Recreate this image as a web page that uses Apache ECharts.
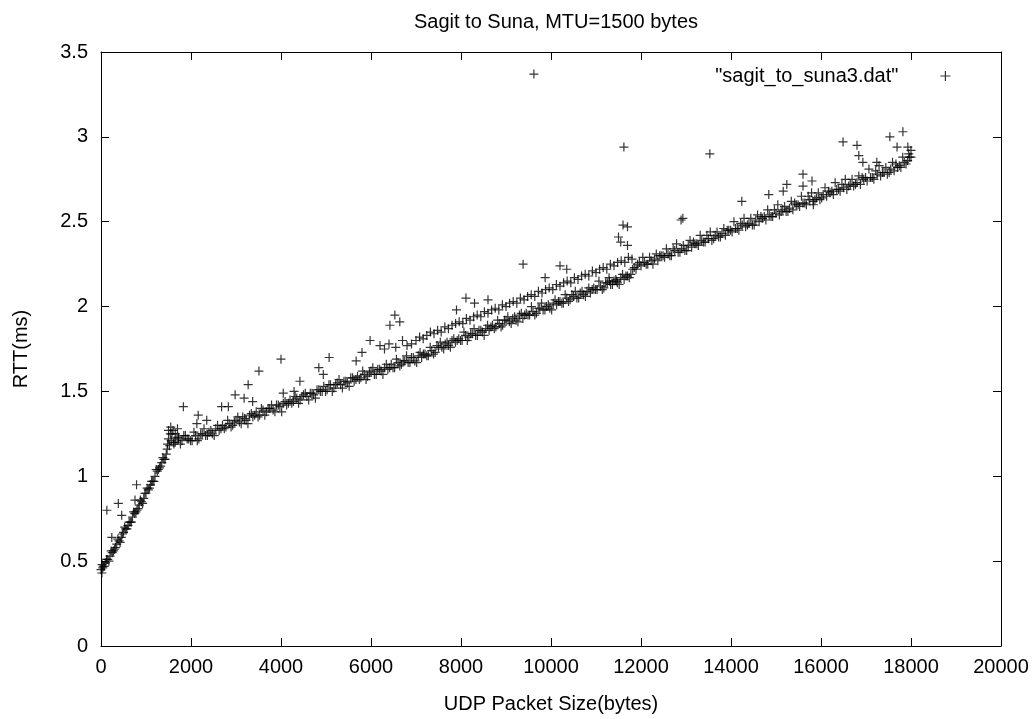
<!DOCTYPE html>
<html>
<head>
<meta charset="utf-8">
<script src="https://cdn.jsdelivr.net/npm/echarts@6/dist/echarts.min.js"></script>
<style>
  html, body { margin: 0; padding: 0; background: #fff; }
  #chart { width: 1036px; height: 719px; }
</style>
</head>
<body>
<div id="chart"></div>
<script>
const TITLE = 'Sagit to Suna, MTU=1500 bytes';
const SERIES_NAME = '"sagit_to_suna3.dat"';
const X_NAME = 'UDP Packet Size(bytes)';
const Y_NAME = 'RTT(ms)';

// packet sizes are sent on fixed grids; RTT values
const rampStart = 0, rampStep = 50;
const rampRtt = [
  0.45, 0.47, 0.49, 0.51, 0.53, 0.55, 0.57, 0.60, 0.62, 0.64,
  0.67, 0.69, 0.71, 0.73, 0.76, 0.78, 0.80, 0.83, 0.85, 0.87,
  0.90, 0.92, 0.95, 0.97, 1.00, 1.03, 1.05, 1.08, 1.10, 1.13
];
const rampBStart = 25, rampBStep = 50;
const rampBRtt = [
  0.48, 0.47, 0.51, 0.50, 0.56, 0.56, 0.58, 0.63, 0.61, 0.66,
  0.70, 0.69, 0.73, 0.73, 0.79, 0.79, 0.81, 0.86, 0.84, 0.90,
  0.93, 0.93, 0.97, 0.97, 1.04, 1.04, 1.06, 1.11, 1.10
];

const mainStart = 1500, mainStep = 75;
const mainRtt = [
  1.22, 1.25, 1.20, 1.23, 1.21, 1.24, 1.22, 1.21, 1.24, 1.22,
  1.25, 1.24, 1.26, 1.25, 1.28, 1.27, 1.30, 1.29, 1.31, 1.30,
  1.33, 1.32, 1.35, 1.33, 1.36, 1.35, 1.38, 1.36, 1.39, 1.38,
  1.40, 1.39, 1.42, 1.41, 1.43, 1.42, 1.45, 1.44, 1.46, 1.45,
  1.48, 1.47, 1.49, 1.48, 1.51, 1.50, 1.53, 1.51, 1.54, 1.52,
  1.55, 1.54, 1.56, 1.55, 1.58, 1.56, 1.59, 1.58, 1.60, 1.59,
  1.62, 1.60, 1.63, 1.62, 1.64, 1.63, 1.66, 1.64, 1.67, 1.66,
  1.68, 1.67, 1.70, 1.68, 1.71, 1.70, 1.72, 1.71, 1.74, 1.73,
  1.76, 1.76, 1.78, 1.77, 1.80, 1.79, 1.81, 1.80, 1.83, 1.82,
  1.84, 1.83, 1.86, 1.85, 1.87, 1.86, 1.89, 1.88, 1.90, 1.89,
  1.92, 1.91, 1.93, 1.92, 1.95, 1.93, 1.96, 1.95, 1.97, 1.96,
  1.99, 1.98, 2.00, 1.99, 2.02, 2.01, 2.03, 2.02, 2.05, 2.04,
  2.06, 2.05, 2.08, 2.07, 2.09, 2.08, 2.11, 2.10, 2.12, 2.11,
  2.14, 2.13, 2.15, 2.14, 2.17, 2.16, 2.18, 2.19, 2.23, 2.25,
  2.24, 2.26, 2.25, 2.27, 2.28, 2.27, 2.30, 2.29, 2.31, 2.30,
  2.33, 2.32, 2.34, 2.33, 2.36, 2.35, 2.37, 2.36, 2.39, 2.38,
  2.40, 2.39, 2.42, 2.41, 2.43, 2.42, 2.45, 2.44, 2.46, 2.45,
  2.48, 2.47, 2.49, 2.48, 2.51, 2.50, 2.52, 2.51, 2.54, 2.53,
  2.55, 2.54, 2.57, 2.56, 2.58, 2.57, 2.60, 2.59, 2.61, 2.60,
  2.63, 2.62, 2.64, 2.63, 2.66, 2.65, 2.67, 2.66, 2.69, 2.68,
  2.70, 2.69, 2.72, 2.71, 2.73, 2.72, 2.75, 2.74, 2.76, 2.75,
  2.78, 2.77, 2.79, 2.78, 2.81, 2.80, 2.82, 2.82, 2.85, 2.86,
  2.88
];

const mainBStart = 1540, mainBStep = 75;
const mainBRtt = [
  1.25, 1.20, 1.23, 1.19, 1.24, 1.22, 1.21, 1.26, 1.21, 1.25,
  1.28, 1.24, 1.27, 1.24, 1.30, 1.28, 1.28, 1.33, 1.29, 1.32,
  1.35, 1.31, 1.34, 1.31, 1.37, 1.36, 1.35, 1.40, 1.36, 1.40,
  1.42, 1.38, 1.42, 1.38, 1.44, 1.43, 1.43, 1.47, 1.43, 1.47,
  1.49, 1.45, 1.49, 1.46, 1.51, 1.50, 1.50, 1.54, 1.50, 1.54,
  1.57, 1.52, 1.56, 1.53, 1.58, 1.57, 1.57, 1.62, 1.57, 1.61,
  1.64, 1.60, 1.63, 1.60, 1.66, 1.64, 1.64, 1.69, 1.65, 1.68,
  1.71, 1.67, 1.70, 1.67, 1.73, 1.72, 1.71, 1.76, 1.72, 1.77,
  1.79, 1.75, 1.79, 1.76, 1.81, 1.80, 1.80, 1.85, 1.80, 1.84,
  1.87, 1.83, 1.86, 1.83, 1.89, 1.88, 1.87, 1.92, 1.88, 1.92,
  1.94, 1.90, 1.94, 1.91, 1.96, 1.95, 1.95, 2.00, 1.95, 1.99,
  2.02, 1.98, 2.01, 1.98, 2.04, 2.03, 2.02, 2.07, 2.03, 2.07,
  2.09, 2.05, 2.09, 2.06, 2.11, 2.10, 2.10, 2.15, 2.10, 2.14,
  2.17, 2.13, 2.16, 2.13, 2.19, 2.18, 2.17, 2.22, 2.22, 2.26,
  2.29, 2.25, 2.29, 2.25, 2.31, 2.30, 2.30, 2.34, 2.30, 2.34,
  2.37, 2.32, 2.36, 2.33, 2.39, 2.38, 2.37, 2.42, 2.38, 2.42,
  2.44, 2.40, 2.44, 2.41, 2.46, 2.45, 2.45, 2.50, 2.46, 2.49,
  2.52, 2.48, 2.52, 2.48, 2.54, 2.53, 2.53, 2.57, 2.53, 2.57,
  2.60, 2.56, 2.59, 2.56, 2.62, 2.61, 2.60, 2.65, 2.61, 2.65,
  2.67, 2.63, 2.67, 2.64, 2.70, 2.68, 2.68, 2.73, 2.69, 2.72,
  2.75, 2.71, 2.75, 2.72, 2.77, 2.76, 2.76, 2.81, 2.76, 2.80,
  2.83, 2.79, 2.82, 2.79, 2.85, 2.84, 2.83, 2.88, 2.84, 2.88
];

const upperStart = 7000, upperStep = 80;
const upperRtt = [
  1.80, 1.82, 1.81, 1.83, 1.85, 1.84, 1.86, 1.85, 1.88, 1.87,
  1.89, 1.90, 1.91, 1.90, 1.93, 1.92, 1.94, 1.95, 1.94, 1.97,
  1.96, 1.98, 1.99, 1.98, 2.01, 2.00, 2.02, 2.03, 2.02, 2.05,
  2.04, 2.06, 2.07, 2.06, 2.09, 2.08, 2.10, 2.11, 2.10, 2.13,
  2.12, 2.14, 2.15, 2.14, 2.17, 2.16, 2.18, 2.19, 2.18, 2.21,
  2.20, 2.22, 2.23, 2.22, 2.25, 2.24, 2.26, 2.27, 2.26, 2.29,
  2.28
];

const strayPoints = [
  [130, 0.80], [385, 0.84], [460, 0.77], [790, 0.95], [755, 0.86], [240, 0.64],
  [20, 0.43], [40, 0.46],
  [1470, 1.16], [1480, 1.19], [1500, 1.27], [1520, 1.18], [1550, 1.29], [1560, 1.21],
  [1600, 1.27], [1620, 1.19], [1650, 1.25], [1700, 1.28], [1720, 1.22],
  [1830, 1.41], [2160, 1.36], [2130, 1.31],
  [2350, 1.33], [2680, 1.41], [2830, 1.41], [2980, 1.48], [3180, 1.46], [3370, 1.44],
  [3270, 1.54], [4050, 1.49], [4290, 1.50], [4420, 1.56], [4940, 1.60], [3510, 1.62],
  [4000, 1.69], [4840, 1.64], [5070, 1.70], [5670, 1.68], [5980, 1.80], [6530, 1.95],
  [6640, 1.91], [6420, 1.89], [6200, 1.77], [6400, 1.78], [6700, 1.80], [6900, 1.78],
  [6550, 1.76], [6800, 1.77], [6300, 1.75],
  [5800, 1.73], [7900, 1.98], [8110, 2.05], [8300, 2.02], [8600, 2.04], [9380, 2.25],
  [9620, 3.37], [9870, 2.17], [10200, 2.24], [10350, 2.22], [11300, 2.15], [11450, 2.15],
  [11500, 2.41], [11550, 2.38], [11600, 2.48], [11700, 2.47], [11700, 2.36], [11620, 2.94],
  [12890, 2.51], [12930, 2.52], [13530, 2.90], [14240, 2.62], [14840, 2.66], [15160, 2.68],
  [15240, 2.72], [15600, 2.78], [15600, 2.71], [15800, 2.74], [15830, 2.60], [16490, 2.97],
  [16800, 2.95], [16840, 2.89], [16930, 2.85], [17240, 2.85], [17530, 3.00], [17690, 2.94],
  [17820, 3.03], [17930, 2.94], [17950, 2.90], [18000, 2.92]
];

const gridPoints = (start, step, values) => values.map((v, i) => [start + i * step, v]);
const allPoints = []
  .concat(gridPoints(rampStart, rampStep, rampRtt))
  .concat(gridPoints(rampBStart, rampBStep, rampBRtt))
  .concat(gridPoints(mainStart, mainStep, mainRtt))
  .concat(gridPoints(mainBStart, mainBStep, mainBRtt))
  .concat(gridPoints(upperStart, upperStep, upperRtt))
  .concat(strayPoints);

const FONT = 'Liberation Sans, Arial, sans-serif';
const FS = 20;
const PLUS = 'path://M0,5L10,5M5,0L5,10';

const axisCommon = {
  axisLine: { show: true, onZero: false, lineStyle: { color: '#000', width: 1 } },
  axisTick: { show: true, inside: true, length: 8, lineStyle: { color: '#000' } },
  splitLine: { show: false },
};

const option = {
  animation: false,
  backgroundColor: '#fff',
  textStyle: { fontFamily: FONT, color: '#000' },
  title: {
    text: TITLE,
    left: 551, top: 7, textAlign: 'center',
    textStyle: { fontFamily: FONT, fontSize: FS, fontWeight: 'normal', color: '#000' },
  },
  legend: {
    data: [SERIES_NAME],
    right: 80, top: 61,
    align: 'right',
    itemWidth: 10, itemHeight: 10,
    icon: PLUS,
    itemStyle: { color: 'transparent', borderColor: '#000', borderWidth: 1.2 },
    textStyle: { fontFamily: FONT, fontSize: FS, color: '#000', padding: [0, 37, 0, 0] },
    selectedMode: false,
  },
  grid: { left: 101, right: 35, top: 52, bottom: 63 },
  xAxis: [
    Object.assign({}, axisCommon, {
      type: 'value', min: 0, max: 20000, interval: 2000, position: 'bottom',
      name: X_NAME, nameLocation: 'middle', nameGap: 48,
      nameTextStyle: { fontFamily: FONT, fontSize: FS, color: '#000' },
      axisLabel: { show: true, margin: 11, fontFamily: FONT, fontSize: FS, color: '#000',
        formatter: (v) => String(v) },
    }),
    Object.assign({}, axisCommon, {
      type: 'value', min: 0, max: 20000, interval: 2000, position: 'top',
      axisLabel: { show: false },
    }),
  ],
  yAxis: [
    Object.assign({}, axisCommon, {
      type: 'value', min: 0, max: 3.5, interval: 0.5, position: 'left',
      name: Y_NAME, nameLocation: 'middle', nameGap: 70, nameRotate: 90,
      nameTextStyle: { fontFamily: FONT, fontSize: FS, color: '#000' },
      axisLabel: { show: true, margin: 13, fontFamily: FONT, fontSize: FS, color: '#000',
        formatter: (v) => String(v) },
    }),
    Object.assign({}, axisCommon, {
      type: 'value', min: 0, max: 3.5, interval: 0.5, position: 'right',
      axisLabel: { show: false },
    }),
  ],
  series: [
    {
      name: SERIES_NAME,
      type: 'scatter',
      xAxisIndex: 0,
      yAxisIndex: 0,
      data: allPoints,
      symbol: PLUS,
      symbolSize: 9,
      itemStyle: { color: 'transparent', borderColor: '#000', borderWidth: 1.2 },
      emphasis: { disabled: true },
      silent: true,
    },
  ],
};

const chart = echarts.init(document.getElementById('chart'), null, { renderer: 'canvas' });
chart.setOption(option);
</script>
</body>
</html>
